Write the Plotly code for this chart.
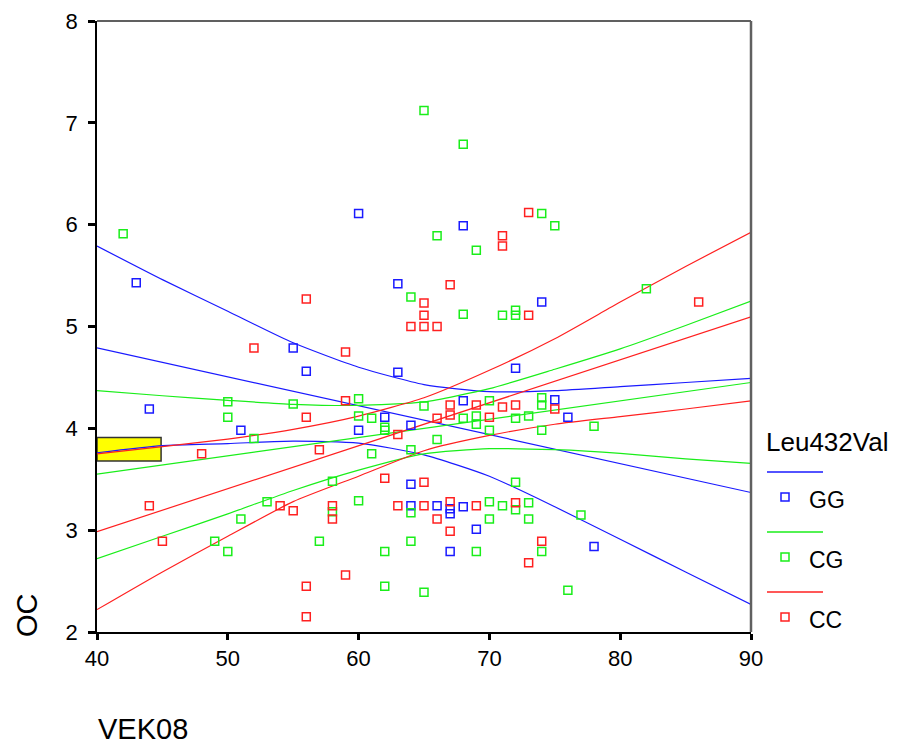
import plotly.graph_objects as go

# ---------------- data ----------------
genotypes = ["GG", "CG", "CC"]
colors = {"GG": "#1a1aff", "CG": "#1aee1a", "CC": "#ff2020"}

gg_x = [60, 43, 63, 68, 74, 55, 56, 63, 72, 44, 62, 64, 51, 60, 68, 75, 76, 64, 64, 66, 67, 67, 68, 69, 67, 78]
gg_y = [6.11, 5.43, 5.42, 5.99, 5.24, 4.79, 4.56, 4.55, 4.59, 4.19, 4.11, 4.03, 3.98, 3.98, 4.27, 4.28, 4.11,
        3.45, 3.24, 3.24, 3.21, 3.16, 3.23, 3.01, 2.79, 2.84]

cg_x = [65, 42, 68, 74, 75, 66, 69, 82, 64, 68, 71, 72, 72,
        50, 55, 60, 50, 60, 61, 62, 62, 52, 61, 64, 65, 66, 68, 69, 69, 70, 70, 72, 73, 74, 74, 74, 78,
        58, 72, 60, 53, 58, 64, 70, 71, 72, 73, 70, 73, 77, 51,
        49, 50, 57, 62, 64, 69, 74, 62, 65, 76]
cg_y = [7.12, 5.91, 6.79, 6.11, 5.99, 5.89, 5.75, 5.37, 5.29, 5.12, 5.11, 5.16, 5.11,
        4.26, 4.24, 4.29, 4.11, 4.12, 4.10, 4.01, 3.98, 3.90, 3.75, 3.79, 4.22, 3.89, 4.10, 4.12, 4.04, 4.27, 3.98,
        4.10, 4.12, 4.30, 4.23, 3.98, 4.02,
        3.48, 3.47, 3.29, 3.28, 3.18, 3.17, 3.28, 3.24, 3.20, 3.27, 3.11, 3.11, 3.15, 3.11,
        2.89, 2.79, 2.89, 2.79, 2.89, 2.79, 2.79, 2.45, 2.39, 2.41]

cc_x = [73, 71, 71, 67, 56, 65, 65, 73, 86, 64, 65, 66, 52, 59, 59, 56, 63, 48, 57, 67, 66, 67, 69, 70, 71, 72, 75,
        62, 65, 44, 54, 55, 58, 58, 63, 65, 67, 69, 72, 66, 67, 45, 74, 73, 59, 56, 56]
cc_y = [6.12, 5.89, 5.79, 5.41, 5.27, 5.23, 5.11, 5.11, 5.24, 5.00, 5.00, 5.00, 4.79, 4.75, 4.27, 4.11, 3.94, 3.75,
        3.79, 4.23, 4.10, 4.13, 4.23, 4.11, 4.21, 4.23, 4.19,
        3.51, 3.47, 3.24, 3.24, 3.19, 3.24, 3.11, 3.24, 3.24, 3.28, 3.24, 3.27, 3.11, 2.99, 2.89, 2.89, 2.68, 2.56,
        2.45, 2.15]

# fitted lines (end points) and confidence-band curves
fit_x = [40, 90]
gg_fit = [4.79, 3.37]
cg_fit = [3.55, 4.45]
cc_fit = [2.985, 5.095]

band_x = [40, 45, 50, 55, 60, 65, 70, 75, 80, 85, 90]
gg_upper = [5.79, 5.46, 5.15, 4.84, 4.60, 4.43, 4.36, 4.37, 4.41, 4.45, 4.49]
gg_lower = [3.76, 3.83, 3.85, 3.875, 3.855, 3.74, 3.53, 3.23, 2.91, 2.59, 2.27]
cg_upper = [4.37, 4.32, 4.275, 4.236, 4.225, 4.26, 4.39, 4.58, 4.78, 5.01, 5.25]
cg_lower = [2.72, 2.94, 3.16, 3.39, 3.59, 3.75, 3.80, 3.79, 3.755, 3.70, 3.655]
cc_upper = [3.75, 3.82, 3.895, 3.99, 4.12, 4.30, 4.57, 4.88, 5.24, 5.59, 5.925]
cc_lower = [2.22, 2.59, 2.94, 3.28, 3.53, 3.78, 3.93, 4.04, 4.115, 4.19, 4.27]

x_ticks = [40, 50, 60, 70, 80, 90]
y_ticks = [2, 3, 4, 5, 6, 7, 8]

# yellow label box (data units)
box_x = [40, 44.9]
box_y = [3.68, 3.91]

points = {"GG": (gg_x, gg_y), "CG": (cg_x, cg_y), "CC": (cc_x, cc_y)}
fits = {"GG": gg_fit, "CG": cg_fit, "CC": cc_fit}
bands = {"GG": (gg_upper, gg_lower), "CG": (cg_upper, cg_lower), "CC": (cc_upper, cc_lower)}

# ---------------- figure ----------------
OFF = 8  # page body margin
W, H = 903 - OFF, 744 - OFF
L, T = 97 - OFF, 21 - OFF
PW, PH = 654, 611
R, B = W - L - PW, H - T - PH
FONT = "Arial, Liberation Sans, sans-serif"


def px(X):
    # page pixel -> paper x
    return (X - OFF - L) / PW


def py(Y):
    # page pixel -> paper y
    return (T + PH - (Y - OFF)) / PH


fig = go.Figure()

for g in genotypes:
    c = colors[g]
    up, lo = bands[g]
    fig.add_trace(go.Scatter(x=band_x, y=up, mode="lines", line=dict(color=c, width=1.2, shape="spline", smoothing=0.6),
                             hoverinfo="skip", showlegend=False))
    fig.add_trace(go.Scatter(x=fit_x, y=fits[g], mode="lines", line=dict(color=c, width=1.2),
                             hoverinfo="skip", showlegend=False))
    fig.add_trace(go.Scatter(x=band_x, y=lo, mode="lines", line=dict(color=c, width=1.2, shape="spline", smoothing=0.6),
                             hoverinfo="skip", showlegend=False))

for g in genotypes:
    xs, ys = points[g]
    fig.add_trace(go.Scatter(x=xs, y=ys, mode="markers", name=g,
                             marker=dict(symbol="square-open", size=8, color=colors[g], line=dict(width=1.5)),
                             showlegend=False))

shapes = []
# yellow box
shapes.append(dict(type="rect", xref="x", yref="y", x0=box_x[0], x1=box_x[1], y0=box_y[0], y1=box_y[1],
                   fillcolor="#ffff00", line=dict(color="#333333", width=1.5), layer="below"))
# frame top and right
shapes.append(dict(type="line", xref="paper", yref="paper", x0=0, x1=1, y0=1, y1=1,
                   line=dict(color="#606060", width=2)))
shapes.append(dict(type="line", xref="paper", yref="paper", x0=1, x1=1, y0=0, y1=1,
                   line=dict(color="#606060", width=2.5)))

annotations = []
# legend
annotations.append(dict(xref="paper", yref="paper", x=px(764), y=py(442), text="Leu432Val", showarrow=False,
                        xanchor="left", yanchor="middle", font=dict(family=FONT, size=26, color="#000")))
leg_rows = [("GG", 472, 497), ("CG", 532, 557), ("CC", 592, 617)]
for g, yl, ym in leg_rows:
    shapes.append(dict(type="line", xref="paper", yref="paper", x0=px(767), x1=px(823), y0=py(yl), y1=py(yl),
                       line=dict(color=colors[g], width=1.5)))
    shapes.append(dict(type="rect", xref="paper", yref="paper", xsizemode="pixel", ysizemode="pixel",
                       xanchor=px(785), yanchor=py(ym), x0=-4, x1=4, y0=-4, y1=4,
                       line=dict(color=colors[g], width=1.5), fillcolor="rgba(0,0,0,0)"))
    annotations.append(dict(xref="paper", yref="paper", x=px(807), y=py(ym + 3), text=g, showarrow=False,
                            xanchor="left", yanchor="middle", font=dict(family=FONT, size=23, color="#000")))

# axis titles
annotations.append(dict(xref="paper", yref="paper", x=px(96), y=py(729), text="VEK08", showarrow=False,
                        xanchor="left", yanchor="middle", font=dict(family=FONT, size=29, color="#000")))
annotations.append(dict(xref="paper", yref="paper", x=px(27), y=py(615), text="OC", showarrow=False,
                        textangle=-90, xanchor="center", yanchor="middle",
                        font=dict(family=FONT, size=29, color="#000")))

fig.update_layout(
    width=W, height=H, autosize=False,
    margin=dict(l=L, r=R, t=T, b=B, pad=0, autoexpand=False),
    paper_bgcolor="white", plot_bgcolor="white",
    showlegend=False,
    shapes=shapes, annotations=annotations,
    font=dict(family=FONT, color="#000"),
    xaxis=dict(range=[40, 90], tickvals=x_ticks, ticktext=[str(v) for v in x_ticks], automargin=False,
               showgrid=False, zeroline=False, showline=True, linecolor="#000", linewidth=1.5,
               ticks="outside", ticklen=6, tickwidth=2.5, tickcolor="#000",
               tickfont=dict(family=FONT, size=22, color="#000"), fixedrange=True),
    yaxis=dict(range=[2, 8], tickvals=y_ticks, ticktext=[str(v) for v in y_ticks], automargin=False,
               showgrid=False, zeroline=False, showline=True, linecolor="#000", linewidth=1.5,
               ticks="outside", ticklen=7, tickwidth=2.5, tickcolor="#000", ticklabelstandoff=6,
               tickfont=dict(family=FONT, size=22, color="#000"), fixedrange=True),
)

fig.write_html("out.html")
